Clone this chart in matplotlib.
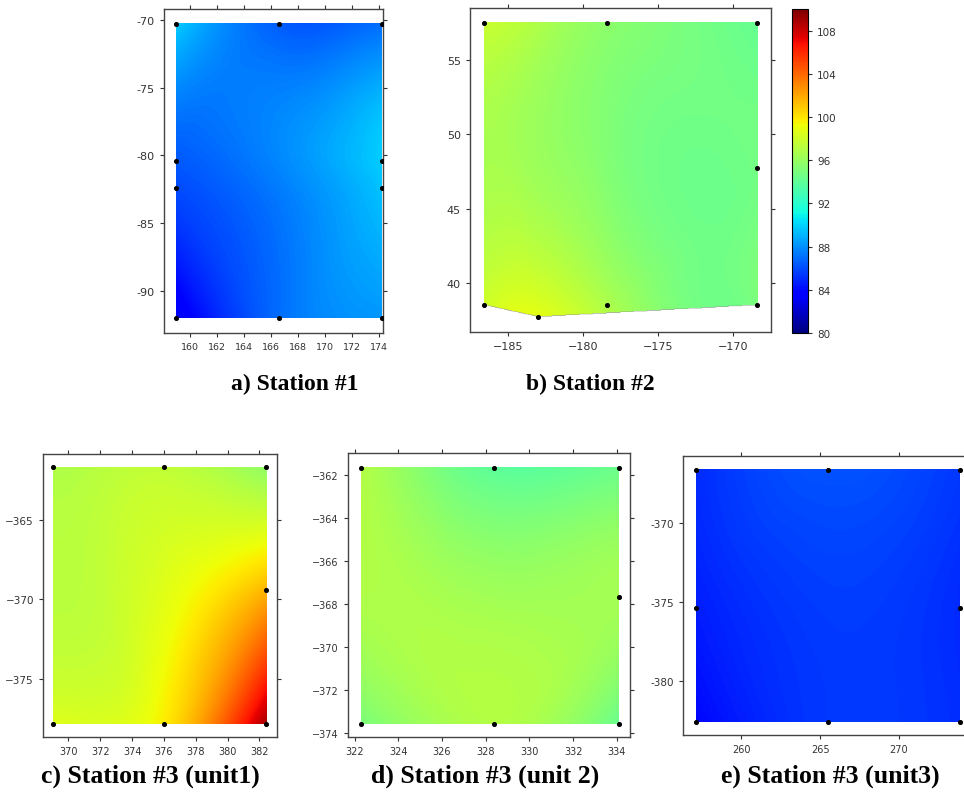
import numpy as np
import matplotlib
matplotlib.use("Agg")
import matplotlib.pyplot as plt
import matplotlib.tri as mtri
from matplotlib.ticker import FuncFormatter

# Sensor coordinates and measured values for each station
a_x = [159.0, 166.6, 174.2, 174.2, 174.2, 174.2, 166.6, 159.0, 159.0, 159.0]
a_y = [-70.3, -70.3, -70.3, -80.4, -82.4, -92.0, -92.0, -92.0, -80.4, -82.4]
a_v = [89.8, 86.5, 87.0, 89.8, 89.5, 88.2, 87.0, 83.0, 86.4, 86.0]

b_x = [-186.6, -178.4, -168.4, -168.4, -168.4, -178.4, -183.0, -186.6]
b_y = [57.5, 57.5, 57.5, 47.75, 38.5, 38.5, 37.7, 38.5]
b_v = [97.8, 95.6, 94.2, 94.7, 95.0, 96.8, 98.8, 98.0]

c_x = [369.0, 376.0, 382.4, 382.4, 382.4, 376.0, 369.0]
c_y = [-361.65, -361.65, -361.65, -369.4, -377.9, -377.9, -377.9]
c_v = [96.9, 97.5, 95.8, 101.5, 109.0, 99.8, 98.6]

d_x = [322.3, 328.4, 334.1, 334.1, 334.1, 328.4, 322.3]
d_y = [-361.7, -361.7, -361.7, -367.7, -373.6, -373.6, -373.6]
d_v = [97.0, 93.9, 94.4, 96.5, 94.3, 97.0, 95.0]

e_x = [257.15, 265.5, 273.9, 273.9, 273.9, 265.5, 257.15, 257.15]
e_y = [-366.7, -366.7, -366.7, -375.4, -382.6, -382.6, -382.6, -375.4]
e_v = [85.0, 86.2, 85.4, 85.0, 85.1, 85.4, 83.9, 84.6]

captions = ["a) Station #1", "b) Station #2", "c) Station #3 (unit1)",
            "d) Station #3 (unit 2)", "e) Station #3 (unit3)"]

cbar_ticks = [80, 84, 88, 92, 96, 100, 104, 108]
VMIN, VMAX = 80, 110

W, H = 964, 803
fig = plt.figure(figsize=(W / 100, H / 100), dpi=100)


def box(left, top, right, bottom):
    return [left / W, 1 - bottom / H, (right - left) / W, (bottom - top) / H]


panels = [
    dict(x=a_x, y=a_y, v=a_v, rect=box(164, 10, 383, 334),
         xlim=(158.1, 174.3), ylim=(-93.1, -69.2),
         xt=np.arange(160, 175, 2), yt=np.arange(-90, -69, 5), hyphen=True,
         fsx=6.8, fsy=8),
    dict(x=b_x, y=b_y, v=b_v, rect=box(470, 9, 771, 333),
         xlim=(-187.5, -167.5), ylim=(36.7, 58.5),
         xt=np.arange(-185, -169, 5), yt=np.arange(40, 56, 5), hyphen=False,
         fsx=8, fsy=8),
    dict(x=c_x, y=c_y, v=c_v, rect=box(43, 455, 277, 738),
         xlim=(368.4, 383.1), ylim=(-378.7, -360.8),
         xt=np.arange(370, 383, 2), yt=np.arange(-375, -364, 5), hyphen=False,
         fsx=7, fsy=7.5),
    dict(x=d_x, y=d_y, v=d_v, rect=box(348, 454, 630, 738),
         xlim=(321.7, 334.6), ylim=(-374.2, -361.0),
         xt=np.arange(322, 335, 2), yt=np.arange(-374, -361, 2), hyphen=False,
         fsx=7, fsy=7),
    dict(x=e_x, y=e_y, v=e_v, rect=box(683, 457, 973, 736),
         xlim=(256.3, 274.7), ylim=(-383.4, -365.8),
         xt=[260, 265, 270], yt=[-380, -375, -370], hyphen=True,
         fsx=7, fsy=7.5),
]

im = None
for p in panels:
    ax = fig.add_axes(p["rect"])
    x = np.asarray(p["x"], float)
    y = np.asarray(p["y"], float)
    v = np.asarray(p["v"], float)
    tri = mtri.Triangulation(x, y)
    interp = mtri.CubicTriInterpolator(tri, v, kind="min_E")
    gx = np.linspace(x.min(), x.max(), 400)
    gy = np.linspace(y.min(), y.max(), 400)
    GX, GY = np.meshgrid(gx, gy)
    Z = interp(GX, GY)
    im = ax.imshow(Z, origin="lower", extent=(x.min(), x.max(), y.min(), y.max()),
                   cmap="jet", vmin=VMIN, vmax=VMAX, interpolation="bilinear",
                   aspect="auto")
    ax.scatter(x, y, s=7, c="black", zorder=3)
    ax.set_xlim(*p["xlim"])
    ax.set_ylim(*p["ylim"])
    ax.set_xticks(p["xt"])
    ax.set_yticks(p["yt"])
    if p["hyphen"]:
        ax.xaxis.set_major_formatter(FuncFormatter(lambda t, pos: f"{t:g}"))
        ax.yaxis.set_major_formatter(FuncFormatter(lambda t, pos: f"{t:g}"))
    ax.tick_params(direction="out", length=3, width=0.8,
                   colors="#333333", top=True, right=True,
                   labeltop=False, labelright=False)
    ax.tick_params(axis="x", labelsize=p["fsx"])
    ax.tick_params(axis="y", labelsize=p["fsy"])
    for s in ax.spines.values():
        s.set_color("#444444")
        s.set_linewidth(1.0)

cax = fig.add_axes(box(792, 10, 808, 334))
cb = fig.colorbar(im, cax=cax, ticks=cbar_ticks)
cb.ax.tick_params(labelsize=7.5, length=3, width=0.8, colors="#333333")
cb.outline.set_linewidth(0.8)

cap_style = dict(family="Liberation Serif", weight="bold", ha="center", va="center")
fig.text(295 / W, 1 - 384 / H, captions[0], fontsize=17, **cap_style)
fig.text(590 / W, 1 - 384 / H, captions[1], fontsize=17, **cap_style)
fig.text(150 / W, 1 - 776 / H, captions[2], fontsize=18.5, **cap_style)
fig.text(485 / W, 1 - 776 / H, captions[3], fontsize=18.5, **cap_style)
fig.text(830 / W, 1 - 776 / H, captions[4], fontsize=18.5, **cap_style)

fig.savefig("out.png", dpi=100)
